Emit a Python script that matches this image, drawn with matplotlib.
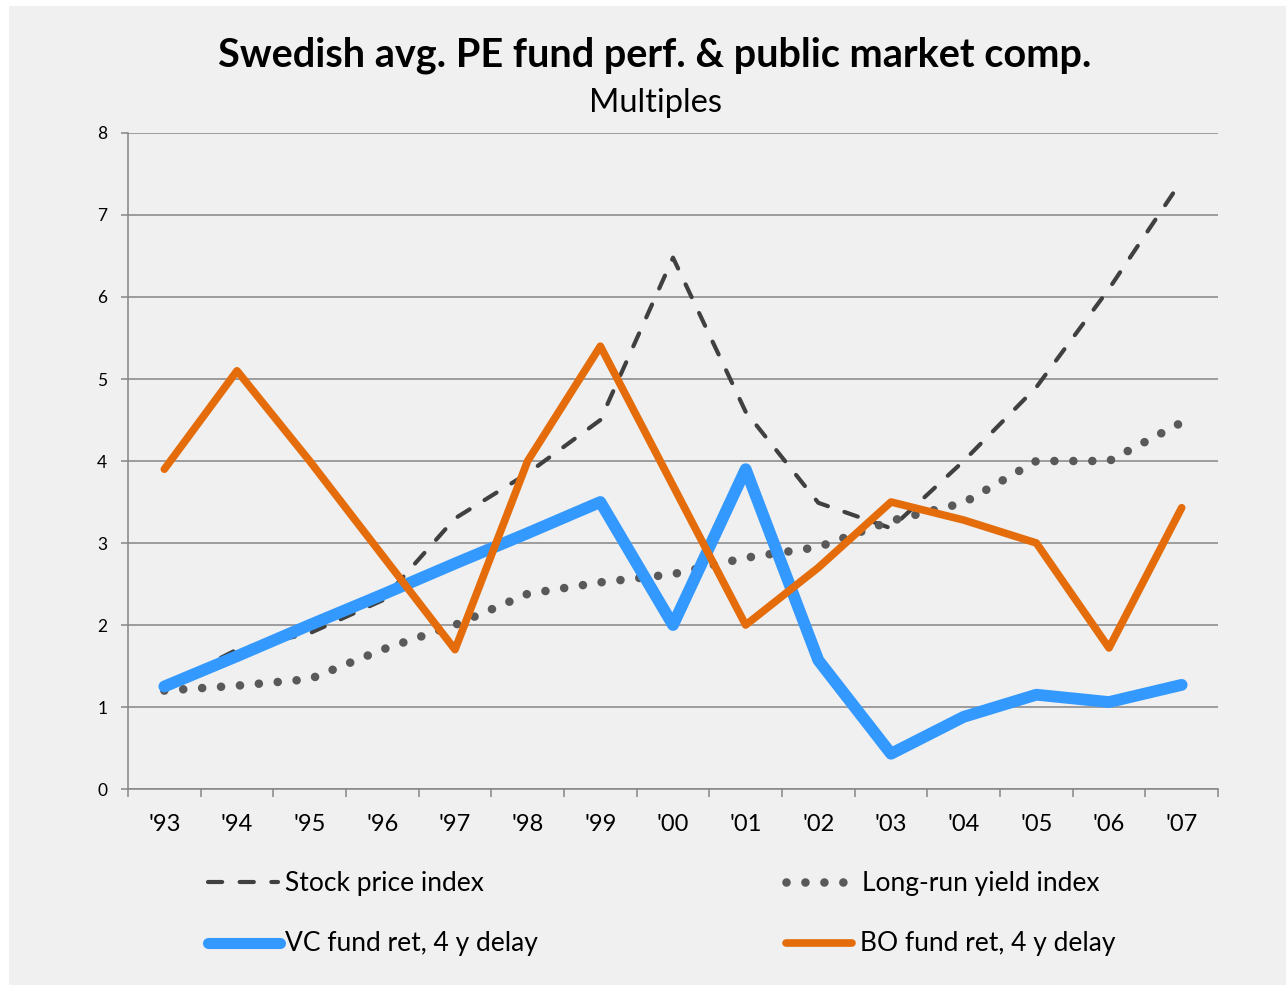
import matplotlib
matplotlib.use("Agg")

import matplotlib.pyplot as plt
from matplotlib.lines import Line2D
from matplotlib.patches import Rectangle

# ---- data (multiples) --------------------------------------------------
years = ["'93", "'94", "'95", "'96", "'97", "'98", "'99", "'00",
         "'01", "'02", "'03", "'04", "'05", "'06", "'07"]
stock_price = [1.25, 1.7, 1.9, 2.3, 3.3, 3.85, 4.5, 6.48,
               4.6, 3.49, 3.18, 4.0, 4.9, 6.1, 7.42]
long_run_yield = [1.2, 1.26, 1.34, 1.7, 2.0, 2.38, 2.52, 2.62,
                  2.82, 2.95, 3.27, 3.49, 4.0, 4.0, 4.47]
vc_ret = [1.25, 1.62, 2.0, 2.37, 2.75, 3.12, 3.5, 2.0,
          3.9, 1.57, 0.43, 0.88, 1.15, 1.06, 1.27]
bo_ret = [3.9, 5.1, 4.0, 2.85, 1.7, 4.0, 5.4, 3.7,
          2.0, 2.7, 3.5, 3.28, 3.0, 1.72, 3.43]

labels = ["Stock price index", "Long-run yield index",
          "VC fund ret, 4 y delay", "BO fund ret, 4 y delay"]

C_BG = "#f0f0f0"
C_GRID = "#868686"
C_STOCK = "#404040"
C_YIELD = "#595959"
C_VC = "#3399ff"
C_BO = "#e46c0a"

STOCK_DASH = (3.4, 4.2)
YIELD_DOT = (0.001, 2.2)

W, H = 1286, 985
plt.rcParams["font.family"] = ["Lato", "DejaVu Sans"]


def fx(px):
    return px / W


def fy(py):
    return 1 - py / H


fig = plt.figure(figsize=(W / 100, H / 100), dpi=100, facecolor="white")
fig.add_artist(Rectangle((fx(9), 0), 1, fy(6), transform=fig.transFigure,
                         facecolor=C_BG, edgecolor="none", zorder=-10))

ax = fig.add_axes([fx(128), fy(789), fx(1218) - fx(128), fy(133) - fy(789)])
ax.set_facecolor("none")

x = list(range(len(years)))
line_stock, = ax.plot(x, stock_price, color=C_STOCK, lw=3.0,
                      ls=(0, STOCK_DASH), dash_capstyle="round", zorder=3)
line_yield, = ax.plot(x, long_run_yield, color=C_YIELD, lw=6.2,
                      ls=(0, YIELD_DOT), dash_capstyle="round", zorder=3)
line_vc, = ax.plot(x, vc_ret, color=C_VC, lw=8.5,
                   solid_capstyle="round", solid_joinstyle="round", zorder=4)
line_bo, = ax.plot(x, bo_ret, color=C_BO, lw=5.5,
                   solid_capstyle="round", solid_joinstyle="round", zorder=5)

ax.set_xlim(-0.5, len(years) - 0.5)
ax.set_ylim(0, 8)
ax.set_yticks(range(0, 9))
ax.yaxis.grid(True, color=C_GRID, lw=1.1)
ax.set_axisbelow(True)

# category boundaries carry the tick marks, centres carry the labels
ax.set_xticks([i - 0.5 for i in range(len(years) + 1)])
ax.set_xticklabels([])
ax.set_xticks(x, minor=True)
ax.set_xticklabels(years, minor=True, fontsize=17)
ax.tick_params(axis="x", which="major", length=6, width=1.1, color=C_GRID)
ax.tick_params(axis="x", which="minor", length=0, pad=18)
ax.tick_params(axis="y", length=5, width=1.1, color=C_GRID, labelsize=12.5, pad=10)

for side in ("top", "right"):
    ax.spines[side].set_visible(False)
for side in ("left", "bottom"):
    ax.spines[side].set_color(C_GRID)
    ax.spines[side].set_linewidth(1.1)

# ---- titles --------------------------------------------------------------
fig.text(fx(655), fy(67), "Swedish avg. PE fund perf. & public market comp.",
         ha="center", va="baseline", fontsize=28.5, fontweight="bold")
fig.text(fx(655), fy(112), "Multiples", ha="center", va="baseline", fontsize=23.5)

# ---- legend (two rows, two columns) ---------------------------------------
entries = [
    (line_stock, labels[0], 208, 278, 285, 882),
    (line_yield, labels[1], 786, 846, 862, 882),
    (line_vc, labels[2], 208, 280, 285, 943),
    (line_bo, labels[3], 786, 852, 860, 943),
]
for src, text, x0, x1, xt, yc in entries:
    h = Line2D([fx(x0), fx(x1)], [fy(yc), fy(yc)], transform=fig.transFigure,
               color=src.get_color(), lw=src.get_linewidth(),
               solid_capstyle="round", dash_capstyle="round")
    if src is line_stock:
        h.set_dashes(STOCK_DASH)
    if src is line_yield:
        h.set_dashes(YIELD_DOT)
    if src is line_vc:
        h.set_linewidth(8.0)
    fig.add_artist(h)
    fig.text(fx(xt), fy(yc + 1), text, ha="left", va="center", fontsize=19)

fig.savefig("out.png", dpi=100, facecolor=fig.get_facecolor())
